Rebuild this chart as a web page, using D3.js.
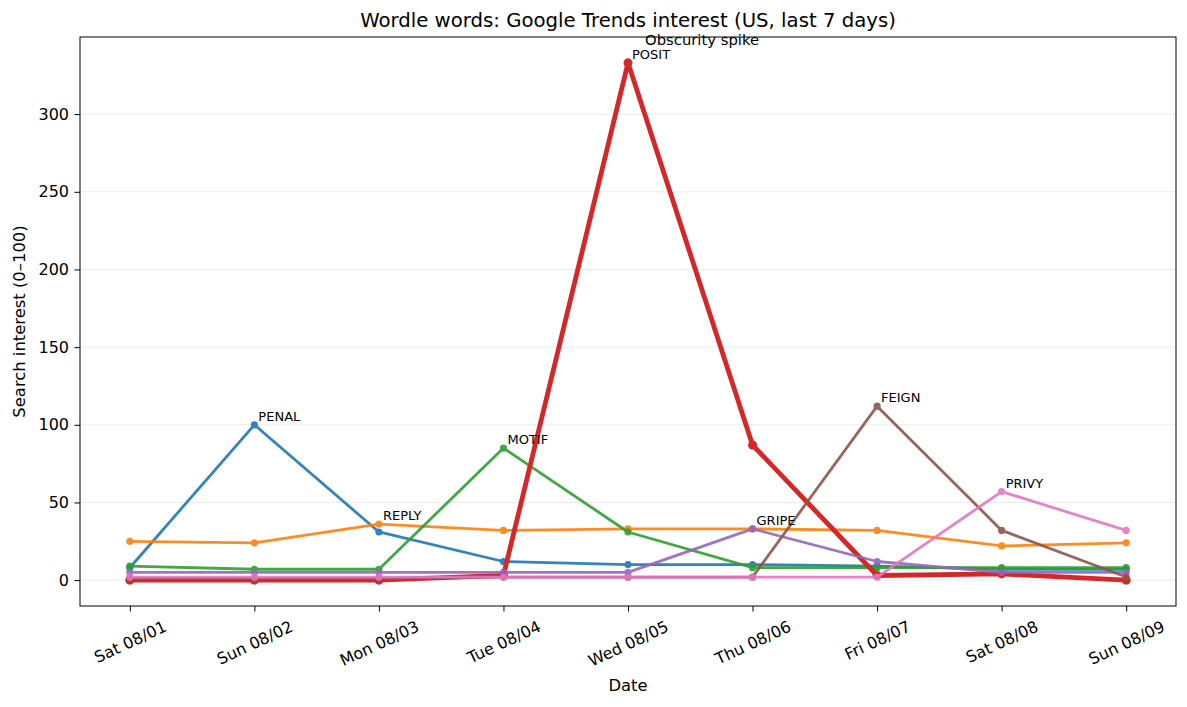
<!DOCTYPE html>
<html>
<head>
<meta charset="utf-8">
<script src="https://cdn.jsdelivr.net/npm/d3@7"></script>
<style>
  body { margin: 0; background: #fff; }
  svg text { font-family: "DejaVu Sans", sans-serif; fill: #000; }
</style>
</head>
<body>
<svg id="chart" width="1187" height="707"></svg>
<script>
var days = ['Sat 08/01', 'Sun 08/02', 'Mon 08/03', 'Tue 08/04', 'Wed 08/05', 'Thu 08/06', 'Fri 08/07', 'Sat 08/08', 'Sun 08/09'];
var words = ['PENAL', 'REPLY', 'MOTIF', 'POSIT', 'GRIPE', 'FEIGN', 'PRIVY'];
var penal = [8, 100, 31, 12, 10, 10, 9, 7, 7];
var reply = [25, 24, 36, 32, 33, 33, 32, 22, 24];
var motif = [9, 7, 7, 85, 31, 8, 8, 8, 8];
var posit = [0, 0, 0, 3, 333, 87, 3, 4, 0];
var gripe = [5, 5, 5, 5, 5, 33, 12, 5, 5];
var feign = [1, 1, 1, 2, 2, 2, 112, 32, 2];
var privy = [2, 2, 2, 2, 2, 2, 2, 57, 32];
var yTicks = [0, 50, 100, 150, 200, 250, 300];
var colors = ['#1f77b4', '#ff7f0e', '#2ca02c', '#d62728', '#9467bd', '#8c564b', '#e377c2'];

var seriesList = [penal, reply, motif, posit, gripe, feign, privy];

var svg = d3.select('#chart');
var plotL = 80, plotR = 1176, plotT = 37, plotB = 606;
var tickLen = 5.5, tickPad = 5.5, tickFont = 16;

var x = d3.scaleLinear().domain([-0.4, days.length - 1 + 0.4]).range([plotL, plotR]);
var yMax = d3.max(seriesList, function(s){ return d3.max(s); });
var pad = yMax * 0.05;
var y = d3.scaleLinear().domain([-pad, yMax + pad]).range([plotB, plotT]);

// grid
svg.append('g').selectAll('line')
  .data(yTicks)
  .enter()
  .append('line')
  .attr('x1', plotL).attr('x2', plotR)
  .attr('y1', function(d){ return y(d); })
  .attr('y2', function(d){ return y(d); })
  .attr('stroke', '#ebebeb')
  .attr('stroke-width', 1);

var line = d3.line()
  .x(function(d, i){ return x(i); })
  .y(function(d){ return y(d); });

var plot = svg.append('g');
seriesList.forEach(function(s, k){
  var thick = words[k] === 'POSIT';
  var g = plot.append('g').attr('opacity', thick ? 1 : 0.9);
  g.append('path')
    .datum(s)
    .attr('d', line)
    .attr('fill', 'none')
    .attr('stroke', colors[k])
    .attr('stroke-width', thick ? 4.8 : 2.8)
    .attr('stroke-linejoin', 'round');
  g.selectAll('circle')
    .data(s)
    .enter()
    .append('circle')
    .attr('cx', function(d, i){ return x(i); })
    .attr('cy', function(d){ return y(d); })
    .attr('r', thick ? 4.5 : 3.6)
    .attr('fill', colors[k]);
});

// peak labels
seriesList.forEach(function(s, k){
  var i = s.indexOf(d3.max(s));
  svg.append('text')
    .attr('x', x(i) + 4)
    .attr('y', y(s[i]) - 4)
    .attr('font-size', 13)
    .text(words[k]);
});

var peakIdx = posit.indexOf(d3.max(posit));
svg.append('text')
  .attr('x', x(peakIdx) + 17)
  .attr('y', y(posit[peakIdx]) - 18)
  .attr('font-size', 14.8)
  .attr('fill', '#222')
  .text('Obscurity spike');

// axes
var rot = 25, rad = rot * Math.PI / 180;
var xAxis = d3.axisBottom(x)
  .tickValues(d3.range(days.length))
  .tickFormat(function(i){ return days[i]; })
  .tickSize(tickLen).tickSizeOuter(0);
var gx = svg.append('g').attr('transform', 'translate(0,' + plotB + ')').call(xAxis);
gx.select('.domain').remove();
gx.selectAll('text')
  .attr('font-size', tickFont)
  .attr('font-family', '"DejaVu Sans", sans-serif')
  .attr('fill', '#000')
  .attr('text-anchor', 'middle')
  .attr('dy', null)
  .attr('dominant-baseline', 'central')
  .each(function(){
    var w = this.getComputedTextLength();
    var h = tickFont * 1.17;
    var cy = tickLen + tickPad + (w * Math.sin(rad) + h * Math.cos(rad)) / 2;
    d3.select(this).attr('y', cy).attr('transform', 'rotate(' + (-rot) + ',0,' + cy + ')');
  });
gx.selectAll('line').attr('stroke', '#000');

var yAxis = d3.axisLeft(y).tickValues(yTicks).tickSize(tickLen).tickSizeOuter(0);
var gy = svg.append('g').attr('transform', 'translate(' + plotL + ',0)').call(yAxis);
gy.select('.domain').remove();
gy.selectAll('text')
  .attr('font-size', tickFont)
  .attr('font-family', '"DejaVu Sans", sans-serif')
  .attr('fill', '#000')
  .attr('x', -(tickLen + tickPad));
gy.selectAll('line').attr('stroke', '#000');

svg.append('rect')
  .attr('x', plotL).attr('y', plotT)
  .attr('width', plotR - plotL).attr('height', plotB - plotT)
  .attr('fill', 'none')
  .attr('stroke', '#000')
  .attr('stroke-width', 1);

svg.append('text')
  .attr('x', (plotL + plotR) / 2).attr('y', 27)
  .attr('text-anchor', 'middle')
  .attr('font-size', 19.7)
  .text('Wordle words: Google Trends interest (US, last 7 days)');

svg.append('text')
  .attr('x', (plotL + plotR) / 2).attr('y', 691)
  .attr('text-anchor', 'middle')
  .attr('font-size', 16.4)
  .text('Date');

svg.append('text')
  .attr('transform', 'translate(25,' + ((plotT + plotB) / 2) + ') rotate(-90)')
  .attr('text-anchor', 'middle')
  .attr('font-size', 16.4)
  .text('Search interest (0\u2013100)');
</script>
</body>
</html>
